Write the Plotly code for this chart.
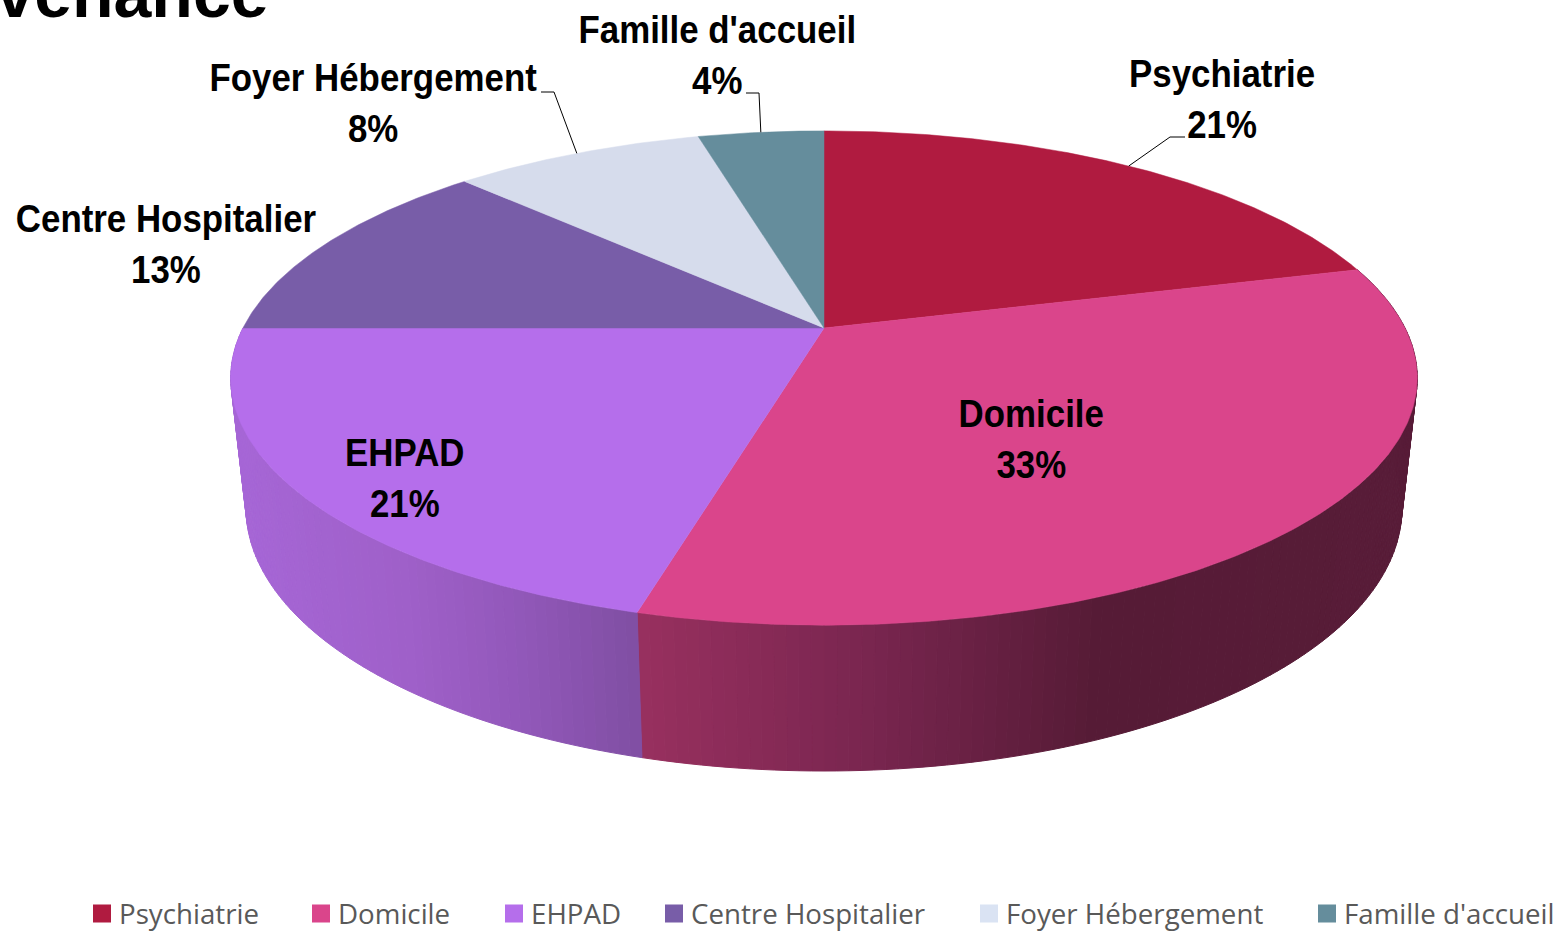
import math
import plotly.graph_objects as go

# ---- data ----
categories = ["Psychiatrie", "Domicile", "EHPAD", "Centre Hospitalier", "Foyer Hébergement", "Famille d'accueil"]
counts = [5, 8, 5, 3, 2, 1]
top_colors = ["#B01B40", "#DA458B", "#B56EEB", "#785DA8", "#D6DCEC", "#658D9C"]
legend_colors = ["#B01B40", "#DA458B", "#B56EEB", "#785DA8", "#DAE3F3", "#658D9C"]
title_text = "Provenance"

# ---- layout constants ----
W, H = 1559, 932
CX, CY_TOP, A_TOP, B_TOP = 824, 328, 581, 237
CY_BOT, A_BOT, B_BOT = 454.8, 566, 252.2
P = 0.2024
FONT_LABEL = "Liberation Sans, Arial"
FONT_LEGEND = "Open Sans, Noto Sans, sans-serif"
label_pos = [(1222, 99), (1031, 439), (405, 478), (166, 244), (373, 103), (717, 55)]
leader_elbows = {0: [(1170, 137), (1185, 137)], 4: [(554, 92), (541, 92)], 5: [(759, 93), (746, 93)]}
legend_left = [93, 312, 505, 665, 980, 1318]
side_stops = {
    1: [(638, "#98305F"), (860, "#7A2650"), (1100, "#561B36"), (1420, "#581C38")],
    2: [(230, "#A666D6"), (400, "#9F60C9"), (500, "#9459BC"), (642, "#7F4EA2")],
}


def project(theta_deg, cy, a, b):
    t = math.radians(theta_deg)
    s, c = math.sin(t), math.cos(t)
    d = 1 + P * c
    return CX + a * s / d, cy - b * c / d


def top(theta):
    return project(theta, CY_TOP, A_TOP, B_TOP)


def bottom(theta):
    return project(theta, CY_BOT, A_BOT, B_BOT)


def hex2rgb(h):
    return tuple(int(h[i:i + 2], 16) for i in (1, 3, 5))


def color_at(stops, x):
    if x <= stops[0][0]:
        return stops[0][1]
    for (x0, c0), (x1, c1) in zip(stops, stops[1:]):
        if x <= x1:
            f = (x - x0) / (x1 - x0)
            r0, r1 = hex2rgb(c0), hex2rgb(c1)
            return "#%02X%02X%02X" % tuple(round(u + (v - u) * f) for u, v in zip(r0, r1))
    return stops[-1][1]


total = sum(counts)
edges = [0]
for v in counts:
    edges.append(edges[-1] + v * 360 / total)

fig = go.Figure()

# side wall, one facet per degree, drawn first so the top face covers it
for idx in side_stops:
    a0, a1 = edges[idx], edges[idx + 1]
    n = max(1, int(a1 - a0))
    for k in range(n):
        t0 = a0 + (a1 - a0) * k / n
        t1 = a0 + (a1 - a0) * (k + 1) / n
        p = [top(t0), top(t1), bottom(t1), bottom(t0), top(t0)]
        col = color_at(side_stops[idx], (top(t0)[0] + top(t1)[0]) / 2)
        fig.add_trace(go.Scatter(
            x=[q[0] for q in p], y=[q[1] for q in p], mode="lines", fill="toself",
            fillcolor=col, line=dict(color=col, width=1), hoverinfo="skip", showlegend=False))

# top faces
for i, name in enumerate(categories):
    a0, a1 = edges[i], edges[i + 1]
    n = max(2, int((a1 - a0) * 2))
    arc = [top(a0 + (a1 - a0) * k / n) for k in range(n + 1)]
    pts = [(CX, CY_TOP)] + arc + [(CX, CY_TOP)]
    fig.add_trace(go.Scatter(
        x=[q[0] for q in pts], y=[q[1] for q in pts], mode="lines", fill="toself",
        fillcolor=top_colors[i], line=dict(color=top_colors[i], width=0.5),
        name=name, hoverinfo="name", showlegend=False))

# leader lines
for i, elbow in leader_elbows.items():
    anchor = top((edges[i] + edges[i + 1]) / 2)
    pts = [anchor] + elbow
    fig.add_trace(go.Scatter(
        x=[q[0] for q in pts], y=[q[1] for q in pts], mode="lines",
        line=dict(color="#000000", width=1), hoverinfo="skip", showlegend=False))

# legends: one native legend per entry so each can sit at its own place
layout_legends = {}
for i, name in enumerate(categories):
    key = "legend" if i == 0 else f"legend{i + 1}"
    fig.add_trace(go.Scatter(
        x=[None], y=[None], mode="markers", name=name, legend=key,
        marker=dict(symbol="square", size=16, color=legend_colors[i],
                    line=dict(color=legend_colors[i], width=2)),
        hoverinfo="skip", showlegend=True))
    layout_legends[key] = dict(
        x=(legend_left[i] - 11) / W, xanchor="left", y=1 - 914 / H, yanchor="middle",
        bgcolor="rgba(0,0,0,0)", borderwidth=0,
        font=dict(family=FONT_LEGEND, size=27.7, color="#595959"))

annotations = []
for i, name in enumerate(categories):
    pct = math.floor(100 * counts[i] / total + 0.5)
    annotations.append(dict(
        x=label_pos[i][0], y=label_pos[i][1], xref="x", yref="y",
        text=f"<b>{name}<br>{pct}%</b>", showarrow=False,
        xanchor="center", yanchor="middle", align="center",
        font=dict(family=FONT_LABEL, size=39, color="#000000")))
annotations.append(dict(
    x=271, y=17, xref="x", yref="y", text=f"<b>{title_text}</b>", showarrow=False,
    xanchor="right", yanchor="bottom", yshift=-16,
    font=dict(family="Liberation Sans, Arial", size=68, color="#000000")))

fig.update_layout(
    width=W, height=H, margin=dict(l=0, r=0, t=0, b=0, autoexpand=False),
    paper_bgcolor="#FFFFFF", plot_bgcolor="#FFFFFF",
    xaxis=dict(range=[0, W], visible=False, fixedrange=True),
    yaxis=dict(range=[H, 0], visible=False, fixedrange=True),
    annotations=annotations, **layout_legends)

post = """
document.body.style.margin='0';document.body.style.overflow='hidden';
var st=document.createElement('style');
st.textContent='.annotation:not([data-index="6"]) .annotation-text{transform-box:fill-box;transform-origin:center;transform:scaleX(0.894);}'
 +'.legendtext,.legend2text,.legend3text,.legend4text,.legend5text,.legend6text{transform:translateX(-3px);}';
document.head.appendChild(st);
"""
fig.write_html("out.html", config={"displayModeBar": False}, post_script=post)
